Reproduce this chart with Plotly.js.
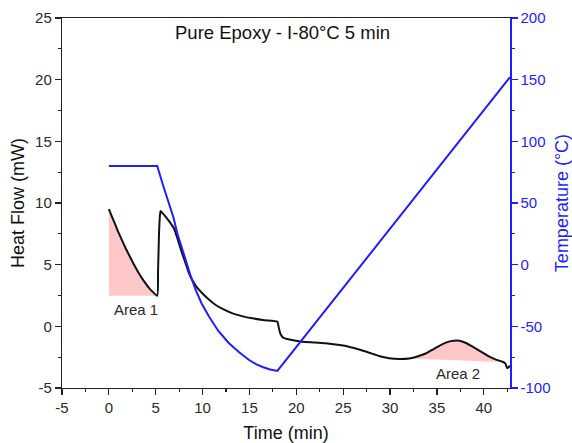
<!DOCTYPE html>
<html>
<head>
<meta charset="utf-8">
<script src="https://cdn.plot.ly/plotly-3.0.1.min.js"></script>
<style>html,body{margin:0;padding:0;background:#fff}#chart{width:572px;height:443px}</style>
</head>
<body>
<div id="chart"></div>
<script>
// Heat flow (mW) vs time (min)
const hfTime = [0,0.35,0.71,1.06,1.42,1.78,2.14,2.5,2.85,3.2,3.56,3.9,4.27,4.7,5.16,
  5.25,5.35,5.45,5.52,5.7,6.05,6.5,6.94,7.2,7.48,7.8,8.19,8.5,8.9,9.4,9.97,10.7,11.4,12.3,13.2,14.2,15.3,16.6,17.98,
  18.1,18.3,18.6,18.9,19.8,20.65,22,23.15,24.4,25.6,26.7,27.78,28.8,29.9,31,32.05,33,33.8,34.7,35.6,36.5,37.4,38.1,38.8,39.7,40.6,41.3,42.0,42.3,42.5,42.8];
const heatFlow = [9.5,8.85,8.2,7.55,6.95,6.35,5.8,5.27,4.77,4.3,3.87,3.5,3.12,2.78,2.48,
  4.5,7.5,9.0,9.35,9.2,8.9,8.45,7.95,7.4,6.73,5.95,5.1,4.4,3.75,3.15,2.68,2.15,1.73,1.35,1.05,0.83,0.65,0.5,0.38,
  0.0,-0.6,-0.92,-1.0,-1.15,-1.25,-1.31,-1.38,-1.5,-1.65,-1.88,-2.14,-2.4,-2.58,-2.64,-2.6,-2.42,-2.2,-1.82,-1.44,-1.2,-1.17,-1.35,-1.65,-2.05,-2.46,-2.7,-2.87,-3.0,-3.4,-3.2];

// Temperature (°C) vs time (min)
const tempTime = [0,5.16,5.8,6.41,6.9,7.3,7.75,8.19,8.7,9.26,9.9,10.68,11.7,12.82,13.9,14.96,15.7,16.4,17.2,17.98,42.8];
const tempVal  = [80,80,64,49.8,38,25.5,14,3.8,-8.5,-20.5,-31.5,-42,-54,-63.7,-71,-77.3,-80.6,-83,-85,-86.2,152];

// Integration areas
const area1Range = [0, 5.16];
const area1Baseline = [2.48, 2.48];
const area2Range = [32.05, 41.9];
const area2Baseline = [-2.6, -2.9];

// Tick labels
const xTicks = [-5,0,5,10,15,20,25,30,35,40];
const xTickText = ['-5','0','5','10','15','20','25','30','35','40'];
const yTicks = [-5,0,5,10,15,20,25];
const yTickText = ['-5','0','5','10','15','20','25'];
const y2Ticks = [-100,-50,0,50,100,150,200];
const y2TickText = ['-100','-50','0','50','100','150','200'];

const titleText = "Pure Epoxy - I-80°C 5 min";
const area1Label = "Area 1";
const area2Label = "Area 2";

function areaPolygon(range, base) {
  const xs = [], ys = [];
  for (let i = 0; i < hfTime.length; i++) {
    if (hfTime[i] >= range[0] - 1e-9 && hfTime[i] <= range[1] + 1e-9) { xs.push(hfTime[i]); ys.push(heatFlow[i]); }
  }
  xs.push(range[1], range[0]);
  ys.push(base[1], base[0]);
  return {xs, ys};
}
const a1 = areaPolygon(area1Range, area1Baseline);
const a2 = areaPolygon(area2Range, area2Baseline);

const blue = 'rgb(30,30,255)';
const fillCol = 'rgba(255,190,190,0.85)';
const font = 'Liberation Sans, Arial, sans-serif';
const txt = '#2a2a2a';

const traces = [
  {x: a1.xs, y: a1.ys, type: 'scatter', mode: 'lines', fill: 'toself', fillcolor: fillCol, line: {width: 0}, hoverinfo: 'skip', showlegend: false},
  {x: a2.xs, y: a2.ys, type: 'scatter', mode: 'lines', fill: 'toself', fillcolor: fillCol, line: {width: 0}, hoverinfo: 'skip', showlegend: false},
  {x: hfTime, y: heatFlow, type: 'scatter', mode: 'lines', line: {color: '#111', width: 2, shape: 'spline', smoothing: 0.5}, showlegend: false},
  {x: tempTime, y: tempVal, type: 'scatter', mode: 'lines', yaxis: 'y2', line: {color: blue, width: 2}, showlegend: false}
];

const layout = {
  width: 572, height: 443,
  margin: {l: 62, r: 62, t: 18, b: 55},
  paper_bgcolor: '#fff', plot_bgcolor: '#fff',
  font: {family: font, color: txt, size: 15},
  showlegend: false,
  xaxis: {
    range: [-5, 42.8], tickmode: 'array', tickvals: xTicks, ticktext: xTickText,
    ticks: 'outside', ticklen: 6, tickwidth: 1.2, tickcolor: '#222',
    minor: {dtick: 2.5, tick0: 0, ticks: 'outside', ticklen: 3, tickcolor: '#222', showgrid: false},
    showline: true, linecolor: '#222', linewidth: 1.2, mirror: true,
    showgrid: false, zeroline: false,
    tickfont: {size: 15, color: txt},
    title: {text: 'Time (min)', font: {size: 18, color: '#111'}, standoff: 13}
  },
  yaxis: {
    range: [-5, 25], tickmode: 'array', tickvals: yTicks, ticktext: yTickText,
    ticks: 'outside', ticklen: 6, tickwidth: 1.2, tickcolor: '#222',
    minor: {dtick: 2.5, tick0: 0, ticks: 'outside', ticklen: 3, tickcolor: '#222', showgrid: false},
    showline: true, linecolor: '#222', linewidth: 1.2,
    showgrid: false, zeroline: false,
    tickfont: {size: 15, color: txt},
    title: {text: 'Heat Flow (mW)', font: {size: 18, color: '#111'}, standoff: 5}
  },
  yaxis2: {
    overlaying: 'y', side: 'right', anchor: 'x',
    range: [-100, 200], tickmode: 'array', tickvals: y2Ticks, ticktext: y2TickText,
    ticks: 'outside', ticklen: 6, tickwidth: 1.2, tickcolor: blue,
    minor: {dtick: 25, tick0: 0, ticks: 'outside', ticklen: 3, tickcolor: blue, showgrid: false},
    showline: true, linecolor: blue, linewidth: 1.5,
    showgrid: false, zeroline: false,
    tickfont: {size: 15, color: blue},
    title: {text: 'Temperature (°C)', font: {size: 18, color: blue}, standoff: 6}
  },
  annotations: [
    {x: 18.5, y: 23.8, xref: 'x', yref: 'y', text: titleText, showarrow: false, font: {size: 18.5, color: '#111'}},
    {x: 2.9, y: 1.35, xref: 'x', yref: 'y', text: area1Label, showarrow: false, font: {size: 15, color: txt}},
    {x: 37.3, y: -3.85, xref: 'x', yref: 'y', text: area2Label, showarrow: false, font: {size: 15, color: txt}}
  ]
};

Plotly.newPlot('chart', traces, layout, {staticPlot: true, displayModeBar: false});
</script>
</body>
</html>
